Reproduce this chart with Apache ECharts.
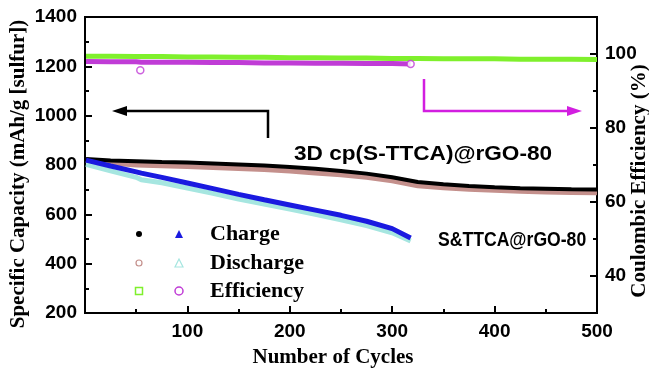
<!DOCTYPE html>
<html>
<head>
<meta charset="utf-8">
<script src="https://cdn.jsdelivr.net/npm/echarts@6/dist/echarts.min.js"></script>
<style>
  html, body { margin: 0; padding: 0; background: #fff; }
  #chart { width: 649px; height: 369px; }
</style>
</head>
<body>
<div id="chart"></div>
<script>
const cyclesCp = [1, 25, 50, 75, 100, 125, 150, 175, 200, 225, 250, 275, 300, 325, 350, 375, 400, 425, 450, 475, 500]
const cyclesSt = [1, 25, 50, 55, 75, 100, 125, 150, 175, 200, 225, 250, 275, 300, 318]

// 3D cp(S-TTCA)@rGO-80 (mAh/g)
const cpCharge = [824, 818, 815, 812, 810, 806, 802, 798, 792, 785, 776, 765, 750, 731, 722, 715, 710, 706, 704, 702, 701]
const cpDischarge = [818, 808, 800, 797, 794, 790, 786, 782, 776, 768, 760, 750, 736, 716, 708, 702, 698, 694, 691, 689, 687]
// S&TTCA@rGO-80 (mAh/g)
const stCharge = [820, 796, 772, 767, 750, 727, 704, 681, 659, 638, 617, 596, 572, 542, 504]
const stDischarge = [803, 776, 750, 740, 728, 707, 685, 662, 642, 621, 600, 578, 554, 525, 492]

// coulombic efficiency (%)
const cpEff = [99.4, 99.4, 99.3, 99.3, 99.2, 99.2, 99.1, 99.1, 99.0, 99.0, 98.9, 98.9, 98.8, 98.8, 98.7, 98.7, 98.7, 98.6, 98.6, 98.6, 98.5]
const stEff = [98.0, 97.9, 97.9, 97.8, 97.8, 97.8, 97.7, 97.7, 97.6, 97.6, 97.5, 97.5, 97.4, 97.4, 97.3]
const stEffOddCycles = [54, 318]
const stEffOddValues = [95.6, 97.3]

// tick labels
const xTicks = [100, 200, 300, 400, 500]
const capTicks = [200, 400, 600, 800, 1000, 1200, 1400]
const effTicks = [40, 60, 80, 100]
const effMinorTicks = [50, 70, 90]

const zip = (xs, ys) => xs.map((x, i) => [x, ys[i]])

const tickFont = { fontFamily: 'Liberation Sans, Arial', fontWeight: 'bold', fontSize: 19, color: '#000' }
const serif = 'Liberation Serif, Times New Roman'

const chart = echarts.init(document.getElementById('chart'))

const band = (name, xs, ys, color, width, yAxisIndex, z) => ({
  name, type: 'line', data: zip(xs, ys), yAxisIndex: yAxisIndex || 0,
  showSymbol: false, symbol: 'none', smooth: false, z: z || 2,
  lineStyle: { color, width }, animation: false
})

chart.setOption({
  animation: false,
  grid: { left: 85, right: 52, top: 17, bottom: 56, show: true, borderColor: '#000', borderWidth: 2 },
  xAxis: {
    type: 'value', min: 0, max: 500, interval: 100,
    axisLine: { show: true, lineStyle: { color: '#000', width: 2 } },
    axisTick: { inside: true, length: 7, lineStyle: { color: '#000', width: 2 } },
    minorTick: { show: true, splitNumber: 2, length: 4, lineStyle: { color: '#000', width: 2 } },
    splitLine: { show: false },
    axisLabel: { ...tickFont, margin: 9, formatter: v => xTicks.includes(v) ? String(v) : '' }
  },
  yAxis: [
    {
      type: 'value', min: 200, max: 1400, interval: 200, position: 'left',
      axisLine: { show: true, lineStyle: { color: '#000', width: 2 } },
      axisTick: { inside: true, length: 7, lineStyle: { color: '#000', width: 2 } },
      minorTick: { show: true, splitNumber: 2, length: 4, lineStyle: { color: '#000', width: 2 } },
      splitLine: { show: false },
      axisLabel: { ...tickFont, margin: 8, formatter: v => capTicks.includes(v) ? String(v) : '' }
    },
    {
      type: 'value', min: 30, max: 110, position: 'right',
      axisLine: { show: true, lineStyle: { color: '#000', width: 2 } },
      axisTick: { inside: true, length: 7, customValues: effTicks, lineStyle: { color: '#000', width: 2 } },
      splitLine: { show: false },
      axisLabel: { ...tickFont, margin: 8, customValues: effTicks }
    },
    {
      type: 'value', min: 30, max: 110, position: 'right',
      axisLine: { show: false },
      axisTick: { inside: true, length: 4, customValues: effMinorTicks, lineStyle: { color: '#000', width: 2 } },
      splitLine: { show: false },
      axisLabel: { show: false }
    }
  ],
  series: [
    band('cp discharge', cyclesCp, cpDischarge, '#c4908c', 5, 0, 2),
    band('cp charge', cyclesCp, cpCharge, '#000000', 4, 0, 3),
    band('st discharge', cyclesSt, stDischarge, '#a6e6e0', 5, 0, 4),
    band('st charge', cyclesSt, stCharge, '#1a1ae0', 5, 0, 5),
    band('cp efficiency', cyclesCp, cpEff, '#7ff02c', 5, 1, 2),
    band('st efficiency', cyclesSt, stEff, '#c03cd6', 5, 1, 3),
    {
      name: 'st efficiency odd', type: 'scatter', yAxisIndex: 1, z: 4,
      data: zip(stEffOddCycles, stEffOddValues), symbol: 'circle', symbolSize: 7,
      itemStyle: { color: '#fff', borderColor: '#c03cd6', borderWidth: 1.5 }
    }
  ],
  graphic: [
    // axis titles
    { type: 'text', x: 19, y: 174, rotation: Math.PI / 2, style: { text: 'Specific Capacity (mAh/g [sulfur])', font: `bold 21px ${serif}`, fill: '#000', align: 'center', verticalAlign: 'middle' } },
    { type: 'text', x: 640, y: 181, rotation: Math.PI / 2, style: { text: 'Coulombic Efficiency (%)', font: `bold 21px ${serif}`, fill: '#000', align: 'center', verticalAlign: 'middle' } },
    { type: 'text', x: 333, y: 358, style: { text: 'Number of Cycles', font: `bold 21px ${serif}`, fill: '#000', align: 'center', verticalAlign: 'middle' } },
    // annotations
    { type: 'text', x: 294, y: 154, scaleX: 1.13, style: { text: '3D cp(S-TTCA)@rGO-80', font: 'bold 20px Liberation Sans, Arial', fill: '#000', align: 'left', verticalAlign: 'middle' } },
    { type: 'text', x: 438, y: 240, scaleX: 0.88, style: { text: 'S&TTCA@rGO-80', font: 'bold 20px Liberation Sans, Arial', fill: '#000', align: 'left', verticalAlign: 'middle' } },
    // arrows
    { type: 'polyline', shape: { points: [[268, 138], [268, 111], [124, 111]] }, style: { stroke: '#000', lineWidth: 2.5, fill: null } },
    { type: 'polygon', shape: { points: [[112, 111], [127, 106], [127, 116]] }, style: { fill: '#000' } },
    { type: 'polyline', shape: { points: [[424, 79], [424, 111], [570, 111]] }, style: { stroke: '#d21ee0', lineWidth: 2.5, fill: null } },
    { type: 'polygon', shape: { points: [[582, 111], [567, 106], [567, 116]] }, style: { fill: '#d21ee0' } },
    // legend symbols
    { type: 'circle', shape: { cx: 139, cy: 234, r: 3 }, style: { fill: '#000' } },
    { type: 'polygon', shape: { points: [[179, 230], [175, 238], [183, 238]] }, style: { fill: '#1a1ae0' } },
    { type: 'circle', shape: { cx: 139, cy: 263, r: 3 }, style: { fill: '#fff', stroke: '#c4908c', lineWidth: 1.2 } },
    { type: 'polygon', shape: { points: [[179, 259], [175, 267], [183, 267]] }, style: { fill: '#fff', stroke: '#a6e6e0', lineWidth: 1.2 } },
    { type: 'rect', shape: { x: 135.5, y: 287.5, width: 7, height: 7 }, style: { fill: '#fff', stroke: '#7ff02c', lineWidth: 1.5 } },
    { type: 'circle', shape: { cx: 179, cy: 291, r: 4 }, style: { fill: '#fff', stroke: '#c03cd6', lineWidth: 1.5 } },
    // legend labels
    { type: 'text', x: 210, y: 234, style: { text: 'Charge', font: `bold 22px ${serif}`, fill: '#000', verticalAlign: 'middle' } },
    { type: 'text', x: 210, y: 263, style: { text: 'Discharge', font: `bold 22px ${serif}`, fill: '#000', verticalAlign: 'middle' } },
    { type: 'text', x: 210, y: 291, style: { text: 'Efficiency', font: `bold 22px ${serif}`, fill: '#000', verticalAlign: 'middle' } }
  ]
})
</script>
</body>
</html>
